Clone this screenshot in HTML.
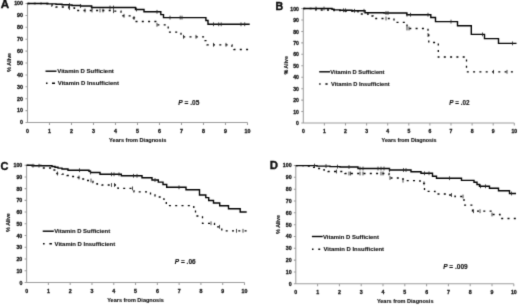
<!DOCTYPE html>
<html><head><meta charset="utf-8"><style>
html,body{margin:0;padding:0;background:#fff;width:520px;height:307px;overflow:hidden}
svg{display:block}
text{font-family:"Liberation Sans", sans-serif;font-weight:bold;fill:#111;stroke:#111;stroke-width:0.12px}
.tk{stroke-width:0.28px}
.ax{stroke:#9c9c9c;stroke-width:1.05;fill:none}
.s{stroke:#000;stroke-width:1.4;fill:none}
.d{stroke:#000;stroke-width:1.3;fill:none;stroke-dasharray:2 4.3}
.cen{stroke:#222;stroke-width:0.85;fill:none}
</style></head><body>
<svg width="520" height="307" viewBox="0 0 520 307">
<defs><filter id="bl" x="0" y="0" width="520" height="307" filterUnits="userSpaceOnUse" color-interpolation-filters="sRGB"><feColorMatrix type="saturate" values="0"/><feConvolveMatrix order="3" kernelMatrix="1 6 1 6 36 6 1 6 1" divisor="64" edgeMode="duplicate"/></filter></defs>
<g filter="url(#bl)"><rect x="0" y="0" width="520" height="307" fill="#fff"/>
<text x="0.8" y="8.4" font-size="11.6" fill="#000" style="stroke:#000;stroke-width:0.35px">A</text>
<path class="ax" d="M27.5 3.5V122.5H247.5M25.5 3.50H27.5M25.5 15.40H27.5M25.5 27.30H27.5M25.5 39.20H27.5M25.5 51.10H27.5M25.5 63.00H27.5M25.5 74.90H27.5M25.5 86.80H27.5M25.5 98.70H27.5M25.5 110.60H27.5M25.5 122.50H27.5M49.50 122.5V125.0M71.50 122.5V125.0M93.50 122.5V125.0M115.50 122.5V125.0M137.50 122.5V125.0M159.50 122.5V125.0M181.50 122.5V125.0M203.50 122.5V125.0M225.50 122.5V125.0M247.50 122.5V125.0"/>
<text class="tk" font-size="5.30" x="23.0" y="5.35" text-anchor="end">100</text>
<text class="tk" font-size="5.30" x="23.0" y="17.25" text-anchor="end">90</text>
<text class="tk" font-size="5.30" x="23.0" y="29.15" text-anchor="end">80</text>
<text class="tk" font-size="5.30" x="23.0" y="41.05" text-anchor="end">70</text>
<text class="tk" font-size="5.30" x="23.0" y="52.95" text-anchor="end">60</text>
<text class="tk" font-size="5.30" x="23.0" y="64.85" text-anchor="end">50</text>
<text class="tk" font-size="5.30" x="23.0" y="76.75" text-anchor="end">40</text>
<text class="tk" font-size="5.30" x="23.0" y="88.65" text-anchor="end">30</text>
<text class="tk" font-size="5.30" x="23.0" y="100.55" text-anchor="end">20</text>
<text class="tk" font-size="5.30" x="23.0" y="112.45" text-anchor="end">10</text>
<text class="tk" font-size="5.30" x="23.0" y="124.35" text-anchor="end">0</text>
<text class="tk" font-size="5.30" x="27.50" y="132.5" text-anchor="middle">0</text>
<text class="tk" font-size="5.30" x="49.50" y="132.5" text-anchor="middle">1</text>
<text class="tk" font-size="5.30" x="71.50" y="132.5" text-anchor="middle">2</text>
<text class="tk" font-size="5.30" x="93.50" y="132.5" text-anchor="middle">3</text>
<text class="tk" font-size="5.30" x="115.50" y="132.5" text-anchor="middle">4</text>
<text class="tk" font-size="5.30" x="137.50" y="132.5" text-anchor="middle">5</text>
<text class="tk" font-size="5.30" x="159.50" y="132.5" text-anchor="middle">6</text>
<text class="tk" font-size="5.30" x="181.50" y="132.5" text-anchor="middle">7</text>
<text class="tk" font-size="5.30" x="203.50" y="132.5" text-anchor="middle">8</text>
<text class="tk" font-size="5.30" x="225.50" y="132.5" text-anchor="middle">9</text>
<text class="tk" font-size="5.30" x="247.50" y="132.5" text-anchor="middle">10</text>
<text font-size="5.30" transform="translate(9.0,62.3) rotate(-90)" text-anchor="middle" y="1.8">% Alive</text>
<text font-size="5.60" x="137.7" y="142.3" text-anchor="middle">Years from Diagnosis</text>
<path d="M45.5 71.2H56.5" stroke="#000" stroke-width="1.4"/>
<text font-size="6.00" x="57.3" y="73.1">Vitamin D Sufficient</text>
<path d="M46 83.3H47.5M52 83.3H55" stroke="#000" stroke-width="1.4"/>
<text font-size="6.00" x="57.8" y="85.3">Vitamin D Insufficient</text>
<text font-size="6.60" x="178.3" y="104.5"><tspan font-style="italic">P</tspan> = .05</text>
<path class="d" d="M27.5 3.5H48.0V4.5H52.0V6.0H56.0V7.0H69.0V8.0H74.5V9.5H77.0V10.5H113.5V11.2H121.0V13.5H123.0V15.8H130.0V18.0H134.5V21.5H157.0V24.8H168.2V32.2H181.0V36.8H205.0V40.7H207.0V44.8H232.0V46.3H234.0V49.5H249.7"/>
<path class="s" d="M27.5 3.5H47.0V3.9H56.0V4.3H62.0V4.7H69.0V5.0H72.0V5.5H80.5V6.0H91.5V7.5H135.5V9.5H144.0V11.8H160.8V14.6H163.5V17.6H205.9V20.5H208.0V24.3H249.7"/>
<path class="cen" d="M69.5 3.1V6.9M80.5 4.1V7.9M92.0 5.6V9.4M110.0 5.6V9.4M113.5 5.6V9.4M136.5 7.6V11.4M157.0 9.9V13.7M170.0 15.7V19.5M180.2 15.7V19.5M182.0 15.7V19.5M213.5 22.4V26.2M218.7 22.4V26.2M221.2 22.4V26.2M241.0 22.4V26.2M244.7 22.4V26.2M69.5 6.1V9.9M85.0 8.6V12.4M92.0 8.6V12.4M100.0 8.6V12.4M103.0 8.6V12.4M113.5 9.3V13.1M124.0 13.9V17.7M134.0 16.1V19.9M157.0 22.9V26.7M183.5 34.9V38.7M196.0 34.9V38.7M213.5 42.9V46.7M226.0 42.9V46.7"/>
<text x="275.5" y="10.1" font-size="10.6" fill="#000" style="stroke:#000;stroke-width:0.35px">B</text>
<path class="ax" d="M303.3 8.5V123.0H514.3M301.3 8.50H303.3M301.3 19.95H303.3M301.3 31.40H303.3M301.3 42.85H303.3M301.3 54.30H303.3M301.3 65.75H303.3M301.3 77.20H303.3M301.3 88.65H303.3M301.3 100.10H303.3M301.3 111.55H303.3M301.3 123.00H303.3M324.40 123.0V125.5M345.50 123.0V125.5M366.60 123.0V125.5M387.70 123.0V125.5M408.80 123.0V125.5M429.90 123.0V125.5M451.00 123.0V125.5M472.10 123.0V125.5M493.20 123.0V125.5M514.30 123.0V125.5"/>
<text class="tk" font-size="5.09" x="298.8" y="10.60" text-anchor="end">100</text>
<text class="tk" font-size="5.09" x="298.8" y="22.05" text-anchor="end">90</text>
<text class="tk" font-size="5.09" x="298.8" y="33.50" text-anchor="end">80</text>
<text class="tk" font-size="5.09" x="298.8" y="44.95" text-anchor="end">70</text>
<text class="tk" font-size="5.09" x="298.8" y="56.40" text-anchor="end">60</text>
<text class="tk" font-size="5.09" x="298.8" y="67.85" text-anchor="end">50</text>
<text class="tk" font-size="5.09" x="298.8" y="79.30" text-anchor="end">40</text>
<text class="tk" font-size="5.09" x="298.8" y="90.75" text-anchor="end">30</text>
<text class="tk" font-size="5.09" x="298.8" y="102.20" text-anchor="end">20</text>
<text class="tk" font-size="5.09" x="298.8" y="113.65" text-anchor="end">10</text>
<text class="tk" font-size="5.09" x="298.8" y="125.10" text-anchor="end">0</text>
<text class="tk" font-size="5.09" x="303.30" y="132.6" text-anchor="middle">0</text>
<text class="tk" font-size="5.09" x="324.40" y="132.6" text-anchor="middle">1</text>
<text class="tk" font-size="5.09" x="345.50" y="132.6" text-anchor="middle">2</text>
<text class="tk" font-size="5.09" x="366.60" y="132.6" text-anchor="middle">3</text>
<text class="tk" font-size="5.09" x="387.70" y="132.6" text-anchor="middle">4</text>
<text class="tk" font-size="5.09" x="408.80" y="132.6" text-anchor="middle">5</text>
<text class="tk" font-size="5.09" x="429.90" y="132.6" text-anchor="middle">6</text>
<text class="tk" font-size="5.09" x="451.00" y="132.6" text-anchor="middle">7</text>
<text class="tk" font-size="5.09" x="472.10" y="132.6" text-anchor="middle">8</text>
<text class="tk" font-size="5.09" x="493.20" y="132.6" text-anchor="middle">9</text>
<text class="tk" font-size="5.09" x="514.30" y="132.6" text-anchor="middle">10</text>
<text font-size="5.09" transform="translate(285.8,65.2) rotate(-90)" text-anchor="middle" y="1.8">% Alive</text>
<text font-size="5.38" x="409.1" y="142.3" text-anchor="middle">Years from Diagnosis</text>
<path d="M319.2 71.8H330" stroke="#000" stroke-width="1.4"/>
<text font-size="5.76" x="330.3" y="74.0">Vitamin D Sufficient</text>
<path d="M319.2 84.0H320.6M325.4 84.0H327.6" stroke="#000" stroke-width="1.4"/>
<text font-size="5.76" x="331.0" y="86.2">Vitamin D Insufficient</text>
<text font-size="6.34" x="449.2" y="104.7"><tspan font-style="italic">P</tspan> = .02</text>
<path class="d" d="M303.3 8.5H316.0V10.0H334.0V10.5H345.0V11.0H358.0V14.0H368.0V16.0H373.0V18.5H394.0V22.4H407.0V28.5H428.0V35.0H428.8V42.5H438.3V57.0H466.5V71.8H516.5"/>
<path class="s" d="M303.3 8.5H332.0V9.2H334.0V9.9H340.0V10.3H352.0V10.8H365.0V12.7H384.0V13.0H406.8V14.7H430.8V17.5H435.5V21.6H457.5V25.8H471.3V34.4H484.5V38.6H498.5V43.4H516.5"/>
<path class="cen" d="M316.0 6.6V10.4M324.0 6.6V10.4M343.5 8.4V12.2M345.5 8.4V12.2M354.5 8.9V12.7M364.0 8.9V12.7M386.0 11.1V14.9M388.0 11.1V14.9M407.0 12.8V16.6M410.5 12.8V16.6M428.0 12.8V16.6M451.0 19.7V23.5M482.5 32.5V36.3M512.5 41.5V45.3M386.0 16.6V20.4M407.0 26.6V30.4M409.0 26.6V30.4M428.0 33.1V36.9M493.5 69.9V73.7M507.0 69.9V73.7"/>
<text x="0.6" y="169.7" font-size="11.0" fill="#000" style="stroke:#000;stroke-width:0.35px">C</text>
<path class="ax" d="M26.6 165.2V282.4H244.5M24.6 165.20H26.6M24.6 176.92H26.6M24.6 188.64H26.6M24.6 200.36H26.6M24.6 212.08H26.6M24.6 223.80H26.6M24.6 235.52H26.6M24.6 247.24H26.6M24.6 258.96H26.6M24.6 270.68H26.6M24.6 282.40H26.6M48.39 282.4V284.9M70.18 282.4V284.9M91.97 282.4V284.9M113.76 282.4V284.9M135.55 282.4V284.9M157.34 282.4V284.9M179.13 282.4V284.9M200.92 282.4V284.9M222.71 282.4V284.9M244.50 282.4V284.9"/>
<text class="tk" font-size="5.25" x="22.3" y="167.30" text-anchor="end">100</text>
<text class="tk" font-size="5.25" x="22.3" y="179.02" text-anchor="end">90</text>
<text class="tk" font-size="5.25" x="22.3" y="190.74" text-anchor="end">80</text>
<text class="tk" font-size="5.25" x="22.3" y="202.46" text-anchor="end">70</text>
<text class="tk" font-size="5.25" x="22.3" y="214.18" text-anchor="end">60</text>
<text class="tk" font-size="5.25" x="22.3" y="225.90" text-anchor="end">50</text>
<text class="tk" font-size="5.25" x="22.3" y="237.62" text-anchor="end">40</text>
<text class="tk" font-size="5.25" x="22.3" y="249.34" text-anchor="end">30</text>
<text class="tk" font-size="5.25" x="22.3" y="261.06" text-anchor="end">20</text>
<text class="tk" font-size="5.25" x="22.3" y="272.78" text-anchor="end">10</text>
<text class="tk" font-size="5.25" x="22.3" y="284.50" text-anchor="end">0</text>
<text class="tk" font-size="5.25" x="26.60" y="292.8" text-anchor="middle">0</text>
<text class="tk" font-size="5.25" x="48.39" y="292.8" text-anchor="middle">1</text>
<text class="tk" font-size="5.25" x="70.18" y="292.8" text-anchor="middle">2</text>
<text class="tk" font-size="5.25" x="91.97" y="292.8" text-anchor="middle">3</text>
<text class="tk" font-size="5.25" x="113.76" y="292.8" text-anchor="middle">4</text>
<text class="tk" font-size="5.25" x="135.55" y="292.8" text-anchor="middle">5</text>
<text class="tk" font-size="5.25" x="157.34" y="292.8" text-anchor="middle">6</text>
<text class="tk" font-size="5.25" x="179.13" y="292.8" text-anchor="middle">7</text>
<text class="tk" font-size="5.25" x="200.92" y="292.8" text-anchor="middle">8</text>
<text class="tk" font-size="5.25" x="222.71" y="292.8" text-anchor="middle">9</text>
<text class="tk" font-size="5.25" x="244.50" y="292.8" text-anchor="middle">10</text>
<text font-size="5.25" transform="translate(8.3,222.5) rotate(-90)" text-anchor="middle" y="1.8">% Alive</text>
<text font-size="5.54" x="135.5" y="301.8" text-anchor="middle">Years from Diagnosis</text>
<path d="M42.7 231.2H53.8" stroke="#000" stroke-width="1.4"/>
<text font-size="5.94" x="54.2" y="233.0">Vitamin D Sufficient</text>
<path d="M43 243.7H44.6M49.4 243.7H51.9" stroke="#000" stroke-width="1.4"/>
<text font-size="5.94" x="54.6" y="245.8">Vitamin D Insufficient</text>
<text font-size="6.53" x="174.8" y="263.8"><tspan font-style="italic">P</tspan> = .06</text>
<path class="d" d="M26.6 165.3H41.0V168.0H53.0V170.0H56.0V173.5H62.0V174.2H67.0V175.5H72.0V176.5H76.0V177.5H81.0V179.0H86.0V180.5H93.0V182.5H97.0V184.0H102.0V185.0H118.0V188.4H134.0V191.8H150.5V195.0H155.0V197.0H160.0V198.8H164.0V201.0H166.3V205.7H193.8V209.5H195.5V216.0H202.5V223.3H214.5V226.8H221.8V230.8H246.7"/>
<path class="s" d="M26.6 165.3H32.0V165.7H52.0V166.5H55.0V167.3H58.0V168.1H62.0V169.0H68.0V170.2H89.0V171.2H90.5V172.5H100.0V174.3H121.3V175.8H142.0V177.8H152.0V180.0H158.3V182.1H163.0V184.5H166.7V187.3H186.0V189.7H199.5V195.0H205.8V197.6H208.7V200.5H213.5V203.0H219.7V205.8H228.5V208.8H240.2V212.0H246.7"/>
<path class="cen" d="M33.0 163.8V167.6M39.0 163.8V167.6M79.5 168.3V172.1M90.5 170.6V174.4M111.5 172.4V176.2M114.0 172.4V176.2M119.0 172.4V176.2M133.5 173.9V177.7M137.0 173.9V177.7M155.0 178.1V181.9M179.0 185.4V189.2M57.5 171.6V175.4M79.0 175.6V179.4M91.0 178.6V182.4M111.5 183.1V186.9M114.5 183.1V186.9M132.5 186.5V190.3M211.0 221.4V225.2M219.5 224.9V228.7M236.5 228.9V232.7M243.0 228.9V232.7"/>
<text x="269.7" y="169.2" font-size="11.4" fill="#000" style="stroke:#000;stroke-width:0.35px">D</text>
<path class="ax" d="M295.8 165.5V283.8H513.8M293.8 165.50H295.8M293.8 177.33H295.8M293.8 189.16H295.8M293.8 200.99H295.8M293.8 212.82H295.8M293.8 224.65H295.8M293.8 236.48H295.8M293.8 248.31H295.8M293.8 260.14H295.8M293.8 271.97H295.8M293.8 283.80H295.8M317.60 283.8V286.3M339.40 283.8V286.3M361.20 283.8V286.3M383.00 283.8V286.3M404.80 283.8V286.3M426.60 283.8V286.3M448.40 283.8V286.3M470.20 283.8V286.3M492.00 283.8V286.3M513.80 283.8V286.3"/>
<text class="tk" font-size="5.25" x="291.6" y="167.45" text-anchor="end">100</text>
<text class="tk" font-size="5.25" x="291.6" y="179.28" text-anchor="end">90</text>
<text class="tk" font-size="5.25" x="291.6" y="191.11" text-anchor="end">80</text>
<text class="tk" font-size="5.25" x="291.6" y="202.94" text-anchor="end">70</text>
<text class="tk" font-size="5.25" x="291.6" y="214.77" text-anchor="end">60</text>
<text class="tk" font-size="5.25" x="291.6" y="226.60" text-anchor="end">50</text>
<text class="tk" font-size="5.25" x="291.6" y="238.43" text-anchor="end">40</text>
<text class="tk" font-size="5.25" x="291.6" y="250.26" text-anchor="end">30</text>
<text class="tk" font-size="5.25" x="291.6" y="262.09" text-anchor="end">20</text>
<text class="tk" font-size="5.25" x="291.6" y="273.92" text-anchor="end">10</text>
<text class="tk" font-size="5.25" x="291.6" y="285.75" text-anchor="end">0</text>
<text class="tk" font-size="5.25" x="295.80" y="293.9" text-anchor="middle">0</text>
<text class="tk" font-size="5.25" x="317.60" y="293.9" text-anchor="middle">1</text>
<text class="tk" font-size="5.25" x="339.40" y="293.9" text-anchor="middle">2</text>
<text class="tk" font-size="5.25" x="361.20" y="293.9" text-anchor="middle">3</text>
<text class="tk" font-size="5.25" x="383.00" y="293.9" text-anchor="middle">4</text>
<text class="tk" font-size="5.25" x="404.80" y="293.9" text-anchor="middle">5</text>
<text class="tk" font-size="5.25" x="426.60" y="293.9" text-anchor="middle">6</text>
<text class="tk" font-size="5.25" x="448.40" y="293.9" text-anchor="middle">7</text>
<text class="tk" font-size="5.25" x="470.20" y="293.9" text-anchor="middle">8</text>
<text class="tk" font-size="5.25" x="492.00" y="293.9" text-anchor="middle">9</text>
<text class="tk" font-size="5.25" x="513.80" y="293.9" text-anchor="middle">10</text>
<text font-size="5.25" transform="translate(277.8,224.4) rotate(-90)" text-anchor="middle" y="1.8">% Alive</text>
<text font-size="5.54" x="405.2" y="302.6" text-anchor="middle">Years from Diagnosis</text>
<path d="M311.9 236.5H322.7" stroke="#000" stroke-width="1.4"/>
<text font-size="5.94" x="323.0" y="239.0">Vitamin D Sufficient</text>
<path d="M312 249.2H313.5M318.3 249.2H320.2" stroke="#000" stroke-width="1.4"/>
<text font-size="5.94" x="323.5" y="251.3">Vitamin D Insufficient</text>
<text font-size="6.53" x="443.2" y="269.0"><tspan font-style="italic">P</tspan> = .009</text>
<path class="d" d="M295.8 165.6H305.0V166.2H312.0V167.3H318.0V168.5H324.0V170.0H328.0V171.5H345.0V173.5H389.0V178.0H403.0V180.7H420.0V183.3H424.5V191.3H435.0V194.0H446.0V195.0H455.0V196.5H464.0V205.2H472.5V211.2H491.0V214.5H500.0V218.5H516.0"/>
<path class="s" d="M295.8 165.6H317.0V166.1H330.0V166.6H340.0V167.0H358.0V168.5H389.5V170.0H411.0V171.7H421.0V173.3H432.5V176.3H436.5V178.2H461.5V180.4H474.0V182.3H477.0V184.5H479.5V186.3H489.5V188.3H498.5V190.8H509.5V193.5H516.0"/>
<path class="cen" d="M314.5 163.7V167.5M326.0 164.2V168.0M337.5 164.7V168.5M349.0 165.1V168.9M360.0 166.6V170.4M363.0 166.6V170.4M378.0 166.6V170.4M381.0 166.6V170.4M384.0 166.6V170.4M389.5 168.1V171.9M403.5 168.1V171.9M406.0 168.1V171.9M424.5 171.4V175.2M429.0 171.4V175.2M449.5 176.3V180.1M480.5 184.4V188.2M485.5 184.4V188.2M511.5 191.6V195.4M336.5 169.6V173.4M349.0 171.6V175.4M350.5 171.6V175.4M360.0 171.6V175.4M363.0 171.6V175.4M381.0 171.6V175.4M383.0 171.6V175.4M390.0 176.1V179.9M403.0 178.8V182.6M424.0 181.4V185.2M451.5 193.1V196.9M463.0 194.6V198.4M473.5 209.3V213.1M480.0 209.3V213.1M492.0 212.6V216.4"/>
</g></svg></body></html>
